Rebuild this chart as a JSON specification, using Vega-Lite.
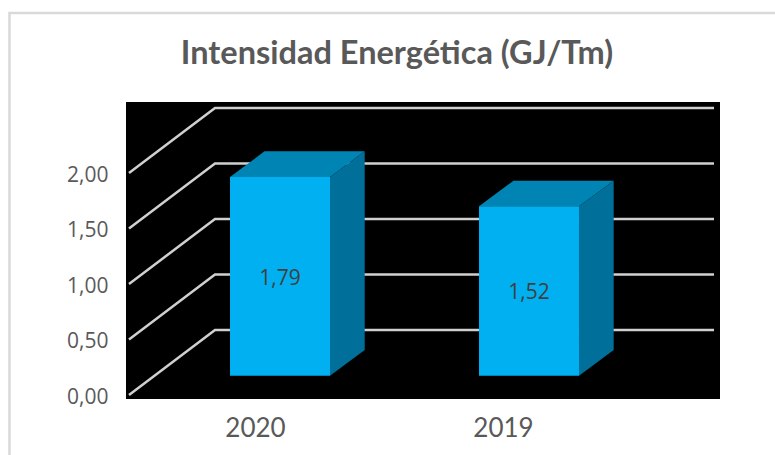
{
"$schema":"https://vega.github.io/schema/vega-lite/v6.json",
"width":594,"height":297,
"autosize":"none",
"padding":{"left":126,"top":102,"right":55,"bottom":56},
"background":"white",
"view":{"fill":"#000000","stroke":null},
"title":{"text":"Intensidad Energética (GJ/Tm)","font":"Lato","fontSize":32.5,"fontWeight":"bold","color":"#595959","anchor":"middle","frame":"group","dx":-26,"offset":-59},
"datasets":{
"frame":[{"pos":-0.468,"pos2":2.63,"v":3.441,"v2":-0.7}],
"grid":[
{"level":"0,00","pos":0.012,"v":0},{"level":"0,00","pos":0.3574,"v":0.5856},{"level":"0,00","pos":2.3614,"v":0.5856},
{"level":"0,50","pos":0.012,"v":0.5},{"level":"0,50","pos":0.3574,"v":1.0856},{"level":"0,50","pos":2.3614,"v":1.0856},
{"level":"1,00","pos":0.012,"v":1},{"level":"1,00","pos":0.3574,"v":1.5856},{"level":"1,00","pos":2.3614,"v":1.5856},
{"level":"1,50","pos":0.012,"v":1.5},{"level":"1,50","pos":0.3574,"v":2.0856},{"level":"1,50","pos":2.3614,"v":2.0856},
{"level":"2,00","pos":0.012,"v":2},{"level":"2,00","pos":0.3574,"v":2.5856},{"level":"2,00","pos":2.3614,"v":2.5856}],
"top":[
{"year":"2020","pos":0.4177,"v":1.964,"v2":1.964},{"year":"2020","pos":0.5562,"v":1.964,"v2":2.1955},{"year":"2020","pos":0.8193,"v":1.964,"v2":2.1955},{"year":"2020","pos":0.9586,"v":2.1955,"v2":2.1955},
{"year":"2019","pos":1.4177,"v":1.7,"v2":1.7},{"year":"2019","pos":1.5562,"v":1.7,"v2":1.9315},{"year":"2019","pos":1.8193,"v":1.7,"v2":1.9315},{"year":"2019","pos":1.9586,"v":1.9315,"v2":1.9315}],
"side":[
{"year":"2020","pos":0.8193,"v":0.174,"v2":1.964},{"year":"2020","pos":0.9586,"v":0.4055,"v2":2.1955},
{"year":"2019","pos":1.8193,"v":0.174,"v2":1.7},{"year":"2019","pos":1.9586,"v":0.4055,"v2":1.9315}],
"front":[
{"year":"2020","pos":0.4177,"pos2":0.8193,"v":0.174,"v2":1.964},
{"year":"2019","pos":1.4177,"pos2":1.8193,"v":0.174,"v2":1.7}],
"labels":[
{"year":"2020","value":"1,79","pos":0.6185,"v":1.045},
{"year":"2019","value":"1,52","pos":1.6185,"v":0.92}]
},
"encoding":{
"x":{"field":"pos","type":"quantitative","title":null,"scale":{"domain":[0,2.3855],"nice":false,"zero":false},
"axis":{"values":[0.518,1.514],"labelExpr":"datum.value<1?'2020':'2019'","domain":false,"ticks":false,"grid":false,"labelFont":"Lato","labelFontSize":26,"labelColor":"#595959","labelPadding":16,"labelOverlap":false,"labelFlush":false}},
"y":{"field":"v","type":"quantitative","title":null,"scale":{"domain":[-0.036,2.64],"nice":false,"zero":false},
"axis":{"values":[0,0.5,1,1.5,2],"labelExpr":"replace(format(datum.value,'.2f'),'.',',')","domain":false,"ticks":false,"grid":false,"labelFont":"Open Sans","labelFontSize":21,"labelColor":"#595959","labelPadding":18,"labelOffset":2,"labelOverlap":false}}
},
"layer":[
{"data":{"name":"frame"},"mark":{"type":"rect","fill":null,"fillOpacity":0,"stroke":"#d9d9d9","strokeWidth":2.5},"encoding":{"x2":{"field":"pos2"},"y2":{"field":"v2"}}},
{"data":{"name":"grid"},"mark":{"type":"line","stroke":"#d0d0d0","strokeWidth":2.5,"interpolate":"linear"},"encoding":{"detail":{"field":"level"}}},
{"data":{"name":"top"},"mark":{"type":"area","color":"#0084B4","interpolate":"linear"},"encoding":{"y2":{"field":"v2"},"detail":{"field":"year"}}},
{"data":{"name":"side"},"mark":{"type":"area","color":"#006F9A","interpolate":"linear"},"encoding":{"y2":{"field":"v2"},"detail":{"field":"year"}}},
{"data":{"name":"front"},"mark":{"type":"rect","color":"#00B0F0"},"encoding":{"x2":{"field":"pos2"},"y2":{"field":"v2"}}},
{"data":{"name":"labels"},"mark":{"type":"text","font":"Open Sans","fontSize":21,"color":"#404040","align":"center","baseline":"middle"},"encoding":{"text":{"field":"value"}}}
]
}
